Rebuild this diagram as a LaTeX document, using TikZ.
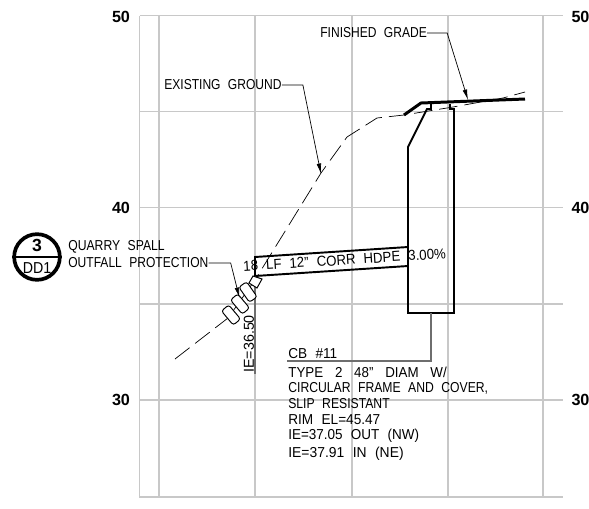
\documentclass[tikz,border=0pt]{standalone}
\usepackage{fontspec}
\setmainfont[FakeStretch=0.9,WordSpace=2.2]{Liberation Sans}
\newfontfamily\elevfont{Liberation Sans}
\usepackage{tikz}
\usetikzlibrary{arrows.meta}
\definecolor{lgrid}{RGB}{200, 200, 200}
\definecolor{dleader}{RGB}{110, 110, 110}
\tikzset{>={Latex[length=6pt, width=2.6pt]}}
\tikzset{
  gridline/.style={draw = lgrid, line width = 0.9pt},
  elev/.style={font = \elevfont\fontsize{9.2}{10}\selectfont\bfseries, inner sep = 0},
  note/.style={font = \fontsize{8.2}{9}\selectfont, inner sep = 0, anchor = west},
  leader/.style={->, line width = 0.4pt},
  outl/.style={line width = 1.1pt},
  rock/.style={draw, fill = white, rectangle, rounded corners = 1.5pt, line width = 0.55pt, minimum width = 10.5pt, minimum height = 5.4pt, inner sep = 0}
}

\begin{document}
\begin{tikzpicture}[x = 0.02cm, y = -0.02cm]
  \useasboundingbox (0, 0) rectangle (589, 508);
  % grid
  \foreach \yy in {15.5, 111.5, 207.5, 304, 400, 497} {
    \draw[gridline] (140, \yy) -- (563, \yy);
  }
  \foreach \xx in {139.5, 159, 255, 352, 448, 543} {
    \draw[gridline] (\xx, 15.5) -- (\xx, 498);
  }
  % elevations
  \node[elev] (e50l) at (121, 17){50};
  \node[elev] (e40l) at (121, 208){40};
  \node[elev] (e30l) at (121, 400){30};
  \node[elev] (e50r) at (580.5, 17){50};
  \node[elev] (e40r) at (580.5, 208){40};
  \node[elev] (e30r) at (580.5, 400){30};
  % existing ground
  \draw[dashed, dash pattern = on 10.5pt off 4pt, line width = 0.4pt] (175, 359) -- (228, 318) -- (255, 280) -- (321, 173) -- (347, 137) -- (377, 118) -- (404, 115) -- (453, 107) -- (503, 98) -- (525, 92);
  % finished grade
  \draw[line width = 1.7pt] (404, 115) -- (421, 103) -- (525, 99);
  % catch basin and pipe
  \draw[outl] (431, 104) -- (431, 109) -- (427, 109) -- (408, 147) -- (408, 313) -- (454, 313) -- (454, 109) -- (450, 109) -- (450, 104);
  \draw[outl, fill = none] (408, 247) -- (255, 257) -- (255, 276) -- (408, 266);
  % leaders to the basin and the pipe end
  \draw[draw = dleader, line width = 0.8pt] (255, 276) -- (255, 374);
  \draw[draw = dleader, line width = 0.8pt] (431, 313) -- (431, 361) -- (287, 361);
  % rocks
  \node[rock, rotate = -50] (r1) at (231, 315){};
  \node[rock, rotate = -50] (r2) at (240, 304){};
  \node[rock, rotate = -55] (r3) at (248, 292){};
  \draw[fill = white, line width = 0.55pt] (249, 283) -- (253, 276) -- (262, 279) -- (257, 288) -- cycle;
  % labels
  \node[note, rotate = 3.7, xscale = 1.02] (pipe) at (243, 266.5){18 LF 12" CORR HDPE 3.00\%};
  \node[note, rotate = 90, anchor = west, xscale = 1.1] (ie) at (249, 373){IE=36.50};
  \node[note, xscale = 1.05] (cbtitle) at (288, 353.5){CB \#11};
  \node[note, xscale = 1.03] (cb1) at (288, 372){TYPE\hspace{2pt} 2\hspace{2pt} 48"\hspace{2pt} DIAM\hspace{2pt} W/};
  \node[note, xscale = 0.94] (cb2) at (288, 388){CIRCULAR FRAME AND COVER,};
  \node[note, xscale = 0.94] (cb3) at (288, 403.5){SLIP RESISTANT};
  \node[note, xscale = 1.05] (cb4) at (288, 419.5){RIM EL=45.47};
  \node[note, xscale = 1.04] (cb5) at (288, 436){IE=37.05 OUT (NW)};
  \node[note, xscale = 1.07] (cb6) at (288, 453.5){IE=37.91 IN (NE)};
  \node[note, xscale = 0.93] (fgr) at (320, 33){FINISHED GRADE};
  \node[note, xscale = 0.93] (exg) at (164, 85){EXISTING GROUND};
  \node[note, xscale = 0.94] (qry) at (68, 247){QUARRY SPALL};
  \node[note, xscale = 0.93] (out) at (68, 263){OUTFALL PROTECTION};
  % leader arrows
  \coordinate (fgrtip) at (468, 100);
  \coordinate (exgtip) at (321, 174);
  \coordinate (outtip) at (239.5, 298);
  \draw[leader] (fgr.east) -- ++(20, 0) -- (fgrtip);
  \draw[leader] (exg.east) -- ++(21, 0) -- (exgtip);
  \draw[leader] (out.east) -- ++(22, 0) -- (outtip);
  % detail bubble
  \node[circle, draw, line width = 2.1pt, minimum size = 26pt, inner sep = 0] (bub) at (37, 257){};
  \draw[line width = 1.1pt] (bub.west) -- (bub.east);
  \node[font = \elevfont\fontsize{10}{10}\selectfont\bfseries, inner sep = 0] (bubtop) at (37, 245.5){3};
  \node[note, anchor = center, font = \fontsize{9}{10}\selectfont] (bubbot) at (37, 268){DD1};
\end{tikzpicture}
\end{document}
